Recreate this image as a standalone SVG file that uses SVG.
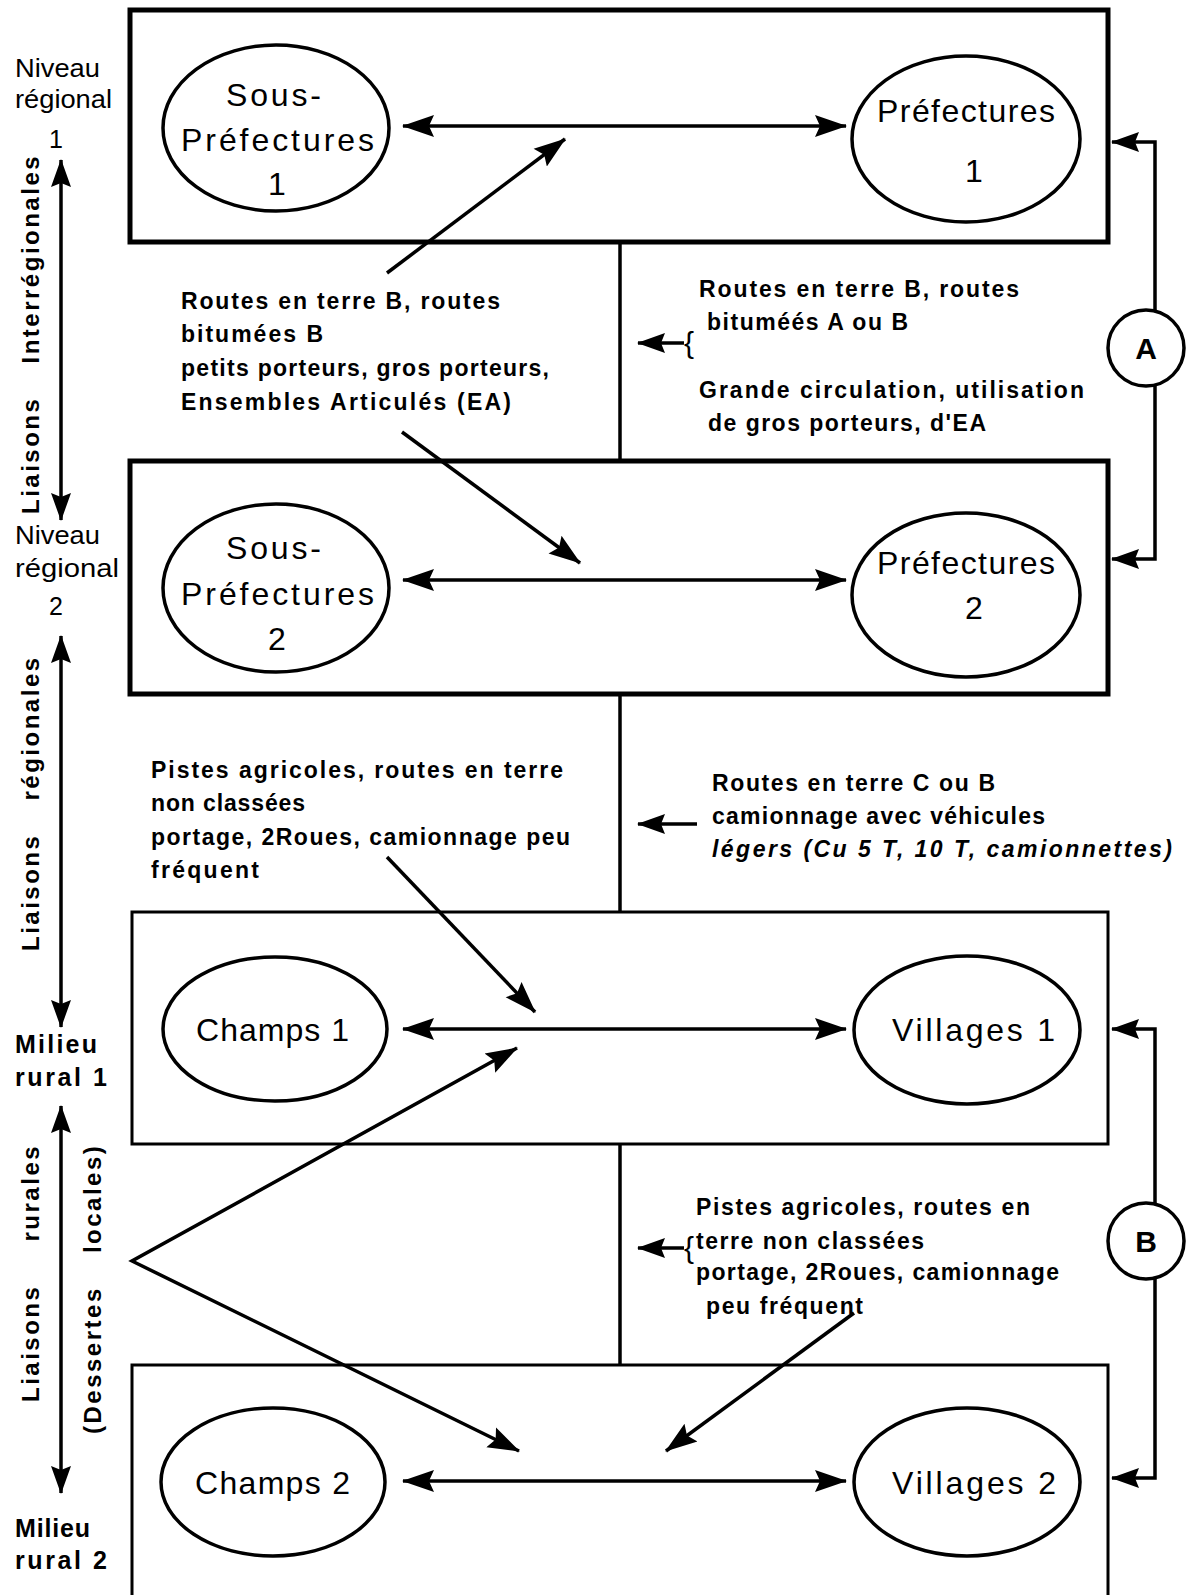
<svg xmlns="http://www.w3.org/2000/svg" width="1186" height="1595" viewBox="0 0 1186 1595">
<style>
.box{fill:none;stroke:#000;stroke-width:5}
.box2{fill:none;stroke:#000;stroke-width:3}
.ell{fill:#fff;stroke:#000;stroke-width:3.5}
.ln{fill:none;stroke:#000;stroke-width:3.5}
.lbl{font-family:"Liberation Sans",Arial,sans-serif;font-size:32px;fill:#000}
.txt{font-family:"Liberation Sans",Arial,sans-serif;font-size:23px;font-weight:bold;fill:#000}
.side{font-family:"Liberation Sans",Arial,sans-serif;font-size:25px;fill:#000}
.rot{font-family:"Liberation Sans",Arial,sans-serif;font-size:24px;font-weight:bold;fill:#000}
.circ{font-family:"Liberation Sans",Arial,sans-serif;font-size:30px;font-weight:bold;fill:#000}
.brace{font-family:"Liberation Sans",Arial,sans-serif;font-size:30px;fill:#000}
</style>
<defs>
<marker id="ah" viewBox="0 0 32 24" refX="31" refY="12" markerWidth="32" markerHeight="24" markerUnits="userSpaceOnUse" orient="auto-start-reverse"><path d="M0,1 L32,12 L0,23 L5,12 Z" fill="#000"/></marker>
<marker id="ahs" viewBox="0 0 28 22" refX="27" refY="11" markerWidth="28" markerHeight="22" markerUnits="userSpaceOnUse" orient="auto-start-reverse"><path d="M0,1 L28,11 L0,21 L4,11 Z" fill="#000"/></marker>
</defs>
<rect width="1186" height="1595" fill="#fff"/>

<g id="boxes">
<rect id="level1" class="box" x="130" y="10" width="978" height="232"/>
<rect id="level2" class="box" x="130" y="461" width="978" height="233"/>
<rect id="rural1" class="box2" x="132" y="912" width="976" height="232"/>
<rect id="rural2" class="box2" x="132" y="1365" width="976" height="260"/>
</g>

<g id="connectors">
<line class="ln" x1="620" y1="242" x2="620" y2="461"/>
<line class="ln" x1="620" y1="694" x2="620" y2="912"/>
<line class="ln" x1="620" y1="1144" x2="620" y2="1365"/>
<line class="ln" x1="403" y1="126" x2="846" y2="126" marker-start="url(#ah)" marker-end="url(#ah)"/>
<line class="ln" x1="403" y1="580" x2="846" y2="580" marker-start="url(#ah)" marker-end="url(#ah)"/>
<line class="ln" x1="403" y1="1029" x2="846" y2="1029" marker-start="url(#ah)" marker-end="url(#ah)"/>
<line class="ln" x1="403" y1="1481" x2="846" y2="1481" marker-start="url(#ah)" marker-end="url(#ah)"/>
<line class="ln" x1="387" y1="273" x2="565" y2="139" marker-end="url(#ah)"/>
<line class="ln" x1="402" y1="432" x2="580" y2="563" marker-end="url(#ah)"/>
<line class="ln" x1="387" y1="857" x2="535" y2="1012" marker-end="url(#ah)"/>
<polyline class="ln" points="517,1048 132,1261 519,1451" marker-start="url(#ah)" marker-end="url(#ah)"/>
<line class="ln" x1="854" y1="1313" x2="666" y2="1451" marker-end="url(#ah)"/>
<polyline class="ln" points="1155,311 1155,142 1112,142" marker-end="url(#ahs)"/>
<polyline class="ln" points="1155,385 1155,559 1112,559" marker-end="url(#ahs)"/>
<polyline class="ln" points="1155,1204 1155,1029 1112,1029" marker-end="url(#ahs)"/>
<polyline class="ln" points="1155,1278 1155,1478 1112,1478" marker-end="url(#ahs)"/>
<line class="ln" x1="684" y1="343" x2="638" y2="343" marker-end="url(#ahs)"/>
<line class="ln" x1="697" y1="824" x2="638" y2="824" marker-end="url(#ahs)"/>
<line class="ln" x1="684" y1="1248" x2="638" y2="1248" marker-end="url(#ahs)"/>
<line class="ln" x1="61" y1="160" x2="61" y2="520" marker-start="url(#ahs)" marker-end="url(#ahs)"/>
<line class="ln" x1="61" y1="636" x2="61" y2="1027" marker-start="url(#ahs)" marker-end="url(#ahs)"/>
<line class="ln" x1="61" y1="1106" x2="61" y2="1493" marker-start="url(#ahs)" marker-end="url(#ahs)"/>
</g>

<g id="sous-prefectures-1">
<ellipse class="ell" cx="276" cy="128" rx="113" ry="83"/>
<text class="lbl" x="226" y="106" textLength="95" lengthAdjust="spacing">Sous-</text>
<text class="lbl" x="181" y="151" textLength="193" lengthAdjust="spacing">Préfectures</text>
<text class="lbl" x="277" y="195" text-anchor="middle">1</text>
</g>
<g id="prefectures-1">
<ellipse class="ell" cx="966" cy="139" rx="114" ry="83"/>
<text class="lbl" x="877" y="122" textLength="178" lengthAdjust="spacing">Préfectures</text>
<text class="lbl" x="974" y="182" text-anchor="middle">1</text>
</g>
<g id="sous-prefectures-2">
<ellipse class="ell" cx="276" cy="588" rx="113" ry="84"/>
<text class="lbl" x="226" y="559" textLength="95" lengthAdjust="spacing">Sous-</text>
<text class="lbl" x="181" y="605" textLength="193" lengthAdjust="spacing">Préfectures</text>
<text class="lbl" x="277" y="650" text-anchor="middle">2</text>
</g>
<g id="prefectures-2">
<ellipse class="ell" cx="966" cy="595" rx="114" ry="82"/>
<text class="lbl" x="877" y="574" textLength="178" lengthAdjust="spacing">Préfectures</text>
<text class="lbl" x="974" y="619" text-anchor="middle">2</text>
</g>
<g id="champs-1">
<ellipse class="ell" cx="275" cy="1029" rx="112" ry="72"/>
<text class="lbl" x="196" y="1041" textLength="153" lengthAdjust="spacing">Champs 1</text>
</g>
<g id="villages-1">
<ellipse class="ell" cx="967" cy="1030" rx="113" ry="74"/>
<text class="lbl" x="892" y="1041" textLength="163" lengthAdjust="spacing">Villages 1</text>
</g>
<g id="champs-2">
<ellipse class="ell" cx="273" cy="1482" rx="112" ry="74"/>
<text class="lbl" x="195" y="1494" textLength="155" lengthAdjust="spacing">Champs 2</text>
</g>
<g id="villages-2">
<ellipse class="ell" cx="967" cy="1482" rx="113" ry="74"/>
<text class="lbl" x="892" y="1494" textLength="164" lengthAdjust="spacing">Villages 2</text>
</g>

<g id="circle-a">
<circle class="ell" cx="1146" cy="348" r="38"/>
<text class="circ" x="1146" y="359" text-anchor="middle">A</text>
</g>
<g id="circle-b">
<circle class="ell" cx="1146" cy="1241" r="38"/>
<text class="circ" x="1146" y="1252" text-anchor="middle">B</text>
</g>

<g id="note-left-1">
<text class="txt" x="181" y="309" textLength="319" lengthAdjust="spacing">Routes en terre B, routes</text>
<text class="txt" x="181" y="342" textLength="142" lengthAdjust="spacing">bitumées B</text>
<text class="txt" x="181" y="376" textLength="368" lengthAdjust="spacing">petits porteurs, gros porteurs,</text>
<text class="txt" x="181" y="410" textLength="330" lengthAdjust="spacing">Ensembles Articulés (EA)</text>
</g>
<g id="note-right-1">
<text class="txt" x="699" y="297" textLength="320" lengthAdjust="spacing">Routes en terre B, routes</text>
<text class="txt" x="707" y="330" textLength="201" lengthAdjust="spacing">bituméés A ou B</text>
<text class="txt" x="699" y="398" textLength="385" lengthAdjust="spacing">Grande circulation, utilisation</text>
<text class="txt" x="708" y="431" textLength="278" lengthAdjust="spacing">de gros porteurs, d'EA</text>
<text class="brace" x="684" y="353">{</text>
</g>
<g id="note-left-2">
<text class="txt" x="151" y="778" textLength="412" lengthAdjust="spacing">Pistes agricoles, routes en terre</text>
<text class="txt" x="151" y="811" textLength="154" lengthAdjust="spacing">non classées</text>
<text class="txt" x="151" y="845" textLength="419" lengthAdjust="spacing">portage, 2Roues, camionnage peu</text>
<text class="txt" x="151" y="878" textLength="108" lengthAdjust="spacing">fréquent</text>
</g>
<g id="note-right-2">
<text class="txt" x="712" y="791" textLength="283" lengthAdjust="spacing">Routes en terre C ou B</text>
<text class="txt" x="712" y="824" textLength="333" lengthAdjust="spacing">camionnage avec véhicules</text>
<text class="txt" x="712" y="857" textLength="460" lengthAdjust="spacing" font-style="italic">légers (Cu 5 T, 10 T, camionnettes)</text>
</g>
<g id="note-right-3">
<text class="txt" x="696" y="1215" textLength="334" lengthAdjust="spacing">Pistes agricoles, routes en</text>
<text class="txt" x="696" y="1249" textLength="228" lengthAdjust="spacing">terre non classées</text>
<text class="txt" x="696" y="1280" textLength="363" lengthAdjust="spacing">portage, 2Roues, camionnage</text>
<text class="txt" x="706" y="1314" textLength="157" lengthAdjust="spacing">peu fréquent</text>
<text class="brace" x="684" y="1258">{</text>
</g>

<g id="side-labels">
<text class="side" x="15" y="77" textLength="85" lengthAdjust="spacingAndGlyphs">Niveau</text>
<text class="side" x="15" y="108" textLength="97" lengthAdjust="spacingAndGlyphs">régional</text>
<text class="side" x="56" y="148" text-anchor="middle">1</text>
<text class="side" x="15" y="544" textLength="85" lengthAdjust="spacingAndGlyphs">Niveau</text>
<text class="side" x="15" y="577" textLength="104" lengthAdjust="spacingAndGlyphs">régional</text>
<text class="side" x="56" y="615" text-anchor="middle">2</text>
<text class="side" x="15" y="1053" textLength="82" lengthAdjust="spacing" font-weight="bold">Milieu</text>
<text class="side" x="15" y="1086" textLength="92" lengthAdjust="spacing" font-weight="bold">rural  1</text>
<text class="side" x="15" y="1537" textLength="75" lengthAdjust="spacing" font-weight="bold">Milieu</text>
<text class="side" x="15" y="1569" textLength="92" lengthAdjust="spacing" font-weight="bold">rural  2</text>
<text class="rot" transform="rotate(-90)" x="-514" y="39" letter-spacing="2.5" word-spacing="24">Liaisons Interrégionales</text>
<text class="rot" transform="rotate(-90)" x="-951" y="39" letter-spacing="2.5" word-spacing="24">Liaisons régionales</text>
<text class="rot" transform="rotate(-90)" x="-1402" y="39" letter-spacing="2.5" word-spacing="34">Liaisons rurales</text>
<text class="rot" transform="rotate(-90)" x="-1434" y="101" letter-spacing="2.5" word-spacing="24">(Dessertes locales)</text>
</g>
</svg>
